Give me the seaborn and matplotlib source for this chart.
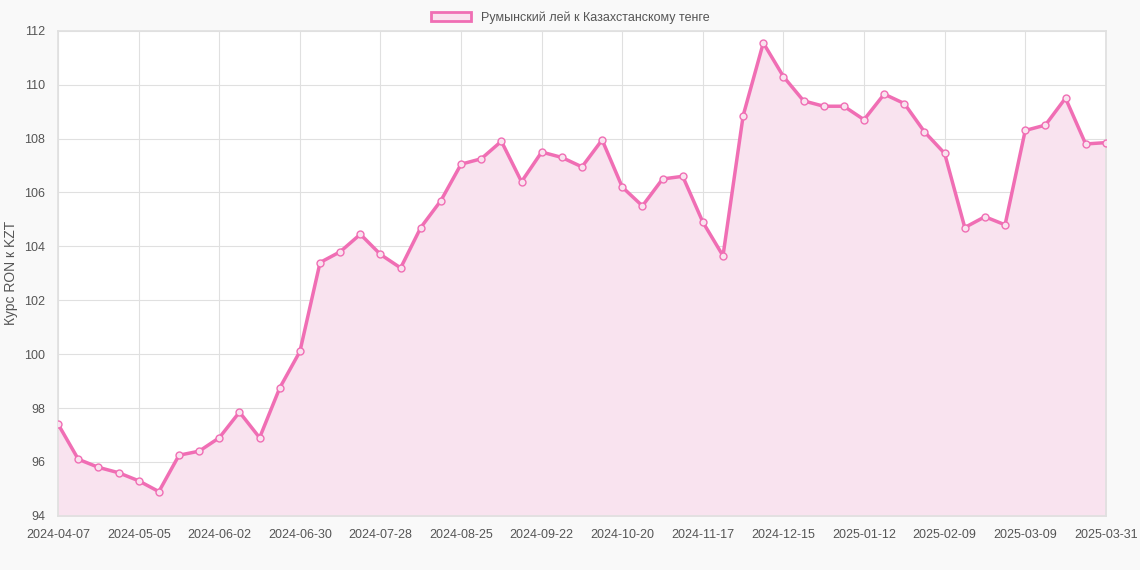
import matplotlib
matplotlib.use("Agg")

import matplotlib.pyplot as plt
import matplotlib.patches as mpatches
import pandas as pd
import seaborn as sns

# Недельный курс RON -> KZT
dates = [d.strftime("%Y-%m-%d") for d in pd.date_range("2024-04-07", periods=52, freq="7D")] + ["2025-03-31"]
rates = [97.4, 96.1, 95.8, 95.6, 95.3, 94.9, 96.25, 96.4, 96.9, 97.85,
         96.9, 98.75, 100.1, 103.4, 103.8, 104.45, 103.7, 103.2, 104.7, 105.7,
         107.05, 107.25, 107.9, 106.4, 107.5, 107.3, 106.95, 107.95, 106.2, 105.5,
         106.5, 106.6, 104.9, 103.65, 108.85, 111.55, 110.3, 109.4, 109.2, 109.2,
         108.7, 109.65, 109.3, 108.25, 107.45, 104.7, 105.1, 104.8, 108.3, 108.5,
         109.5, 107.8, 107.85]
label = "Румынский лей к Казахстанскому тенге"
line_color = "#F06EB4"
fill_color = "#F9E3EF"

sns.set_theme(style="whitegrid")
plt.rcParams["font.family"] = ["Liberation Sans", "DejaVu Sans"]

df = pd.DataFrame({"i": range(len(dates)), "rate": rates})

fig = plt.figure(figsize=(11.4, 5.7), dpi=100, facecolor="#f9f9f9")
ax = fig.add_axes([0.051, 0.095, 0.919, 0.851])
ax.set_facecolor("white")

ax.fill_between(df["i"], df["rate"], 94, color=fill_color, zorder=1)
sns.lineplot(data=df, x="i", y="rate", ax=ax, color=line_color, linewidth=2.5,
             marker="o", markersize=5, markerfacecolor=fill_color,
             markeredgecolor=line_color, markeredgewidth=1, zorder=3)

ticks = list(range(0, 52, 4)) + [52]
ax.set_xticks(ticks)
ax.set_xticklabels([dates[t] for t in ticks], fontsize=9, color="#555555")
ax.set_xlim(0, 52)
ax.set_ylim(94, 112)
ax.set_yticks(range(94, 113, 2))
ax.tick_params(axis="y", labelsize=9, labelcolor="#555555")
ax.set_xlabel("")
ax.set_ylabel("Курс RON к KZT", fontsize=10, color="#555555")
ax.grid(color="#e0e0e0", linewidth=0.8)
for s in ax.spines.values():
    s.set_color("#e0e0e0")

handle = mpatches.Patch(facecolor=fill_color, edgecolor=line_color, linewidth=2, label=label)
fig.legend(handles=[handle], loc="upper center", bbox_to_anchor=(0.5, 1.0),
           frameon=False, fontsize=9, handlelength=3.2, labelcolor="#555555")

fig.savefig("out.png", dpi=100, facecolor=fig.get_facecolor())
